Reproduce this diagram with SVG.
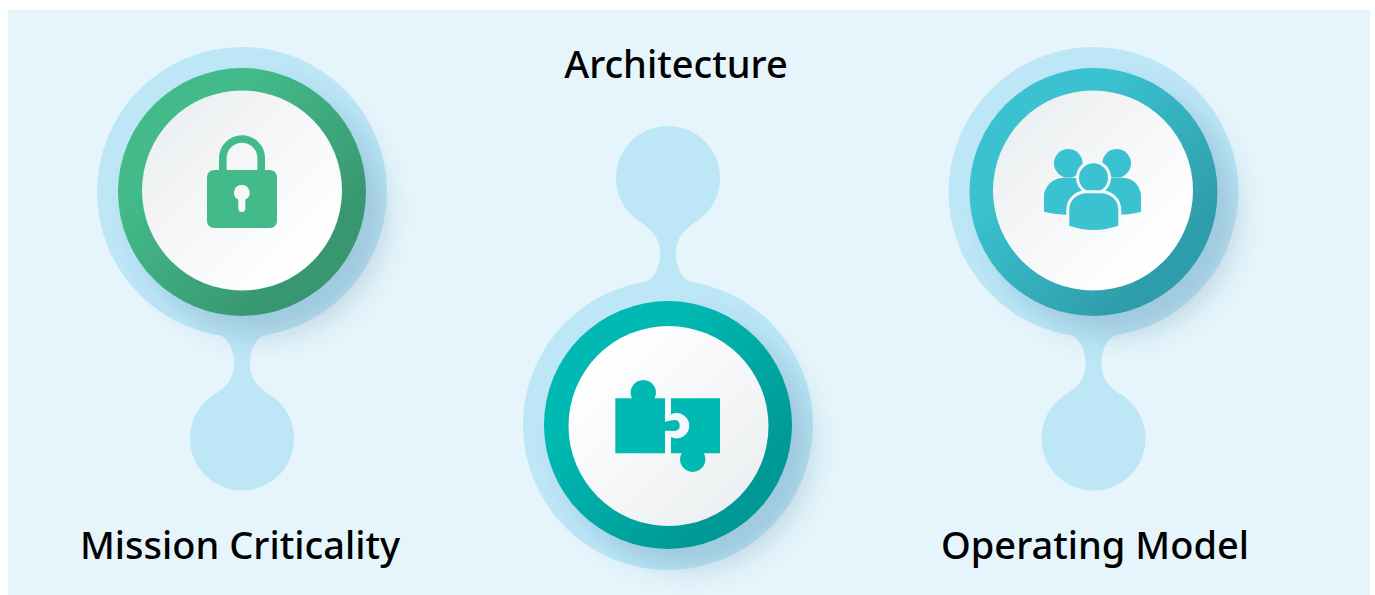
<svg xmlns="http://www.w3.org/2000/svg" width="1375" height="595" viewBox="0 0 1375 595">
<style>
.halo{fill:#bde6f7}
.lbl{font-family:"Noto Sans","Open Sans","Liberation Sans",sans-serif;font-size:38px;font-weight:500;fill:#000}
.ic-g{fill:#43ba8a}.ic-t{fill:#00b9b3}.ic-b{fill:#3bc2d0}
</style>
<defs>
<linearGradient id="gG" x1="0.15" y1="0.15" x2="0.85" y2="0.85"><stop offset="0.2" stop-color="#43ba8a"/><stop offset="0.9" stop-color="#38966f"/></linearGradient>
<linearGradient id="gT" x1="0.15" y1="0.15" x2="0.85" y2="0.85"><stop offset="0.2" stop-color="#00b9b3"/><stop offset="0.9" stop-color="#019995"/></linearGradient>
<linearGradient id="gB" x1="0.15" y1="0.15" x2="0.85" y2="0.85"><stop offset="0.2" stop-color="#3bc2d0"/><stop offset="0.9" stop-color="#2f9dab"/></linearGradient>
<linearGradient id="in1" x1="0.15" y1="0.15" x2="0.85" y2="0.85"><stop offset="0" stop-color="#edf0f2"/><stop offset="1" stop-color="#ffffff"/></linearGradient>
<linearGradient id="in2" x1="0.15" y1="0.15" x2="0.85" y2="0.85"><stop offset="0" stop-color="#ffffff"/><stop offset="1" stop-color="#edf0f2"/></linearGradient>
<filter id="sh" x="-30%" y="-30%" width="170%" height="170%"><feDropShadow dx="20" dy="20" stdDeviation="13" flood-color="#2a5a78" flood-opacity="0.2"/></filter>
</defs>
<rect x="8" y="10" width="1362" height="585" fill="#e5f5fb"/>
<g id="connectors"/>
<g id="node-mission">
<circle class="halo" cx="242" cy="192" r="145"/>
<circle class="halo" cx="242" cy="438.500" r="52"/>
<path class="halo" d="M216 334C228 336 234 350 234 363C234 376 229 385 218 392L266 392C255 385 250 376 250 363C250 350 256 336 268 334Z"/>
<circle cx="242" cy="192" r="124" fill="url(#gG)" filter="url(#sh)"/>
<circle cx="242" cy="190.500" r="100" fill="url(#in1)"/>
<path class="ic-g" fill-rule="evenodd" d="M214 170H270A7 7 0 0 1 277 177V221A7 7 0 0 1 270 228H214A7 7 0 0 1 207 221V177A7 7 0 0 1 214 170ZM241.800 185A7.700 7.700 0 0 0 238.300 199.600V208.500A3.500 3.500 0 0 0 245.300 208.500V199.600A7.700 7.700 0 0 0 241.800 185Z"/>
<path d="M222.800 171V158.200A19.200 19.200 0 0 1 261.200 158.200V171" fill="none" stroke="#43ba8a" stroke-width="7.600"/>
</g>
<g id="node-architecture">
<circle class="halo" cx="668" cy="425" r="145"/>
<circle class="halo" cx="668" cy="178" r="52"/>
<path class="halo" d="M642 283C654 281 660 267 660 254C660 241 655 232 644 225L692 225C681 232 676 241 676 254C676 267 682 281 694 283Z"/>
<circle cx="668" cy="425" r="124" fill="url(#gT)" filter="url(#sh)"/>
<circle cx="668.500" cy="426" r="100" fill="url(#in2)"/>
<path class="ic-t" d="M615.300 398.300H631.900A12.700 12.700 0 1 1 654.700 398.300H665V421.700C668 421.500 671 420 675 420A5.500 5.500 0 0 1 675 430.900C671 430.900 668 430.700 665 430.700V453.300H615.300Z"/>
<path class="ic-t" d="M671 398.300H720V453.300H703.900A12.700 12.700 0 1 1 681.500 453.300H671V437.100A12.700 12.700 0 1 0 671 414.300Z"/>
</g>
<g id="node-operating">
<circle class="halo" cx="1093.500" cy="192" r="145"/>
<circle class="halo" cx="1093.500" cy="438.500" r="52"/>
<path class="halo" d="M1067.500 334C1079.500 336 1085.500 350 1085.500 363C1085.500 376 1080.500 385 1069.500 392L1117.500 392C1106.500 385 1101.500 376 1101.500 363C1101.500 350 1107.500 336 1119.500 334Z"/>
<circle cx="1093.500" cy="192" r="124" fill="url(#gB)" filter="url(#sh)"/>
<circle cx="1093" cy="190.500" r="100" fill="url(#in1)"/>
<circle class="ic-b" cx="1068.300" cy="163.300" r="14.300"/>
<circle class="ic-b" cx="1116.700" cy="163.300" r="14.300"/>
<path class="ic-b" d="M1044 211.700V197C1044 186 1053 177.700 1064 177.700H1123C1133 177.700 1141 186 1141 197V211.700C1134 213.500 1127 214.500 1118 215H1069C1060 214.500 1051 213.500 1044 211.700Z"/>
<circle class="ic-b" cx="1093.500" cy="177.700" r="14.500" stroke="#f5f7f8" stroke-width="6" paint-order="stroke"/>
<path class="ic-b" stroke="#f6f8f9" stroke-width="6" paint-order="stroke" d="M1069.300 225.700V210C1069.300 200 1077 193.300 1087 193.300H1100.500C1110.500 193.300 1118.300 200 1118.300 210V225.700C1110 228.500 1102 230 1093.800 230C1085.500 230 1077 228.500 1069.300 225.700Z"/>
</g>
<text class="lbl" x="676" y="78" text-anchor="middle">Architecture</text>
<text class="lbl" x="240" y="559" text-anchor="middle">Mission Criticality</text>
<text class="lbl" x="1095" y="559" text-anchor="middle">Operating Model</text>
</svg>
